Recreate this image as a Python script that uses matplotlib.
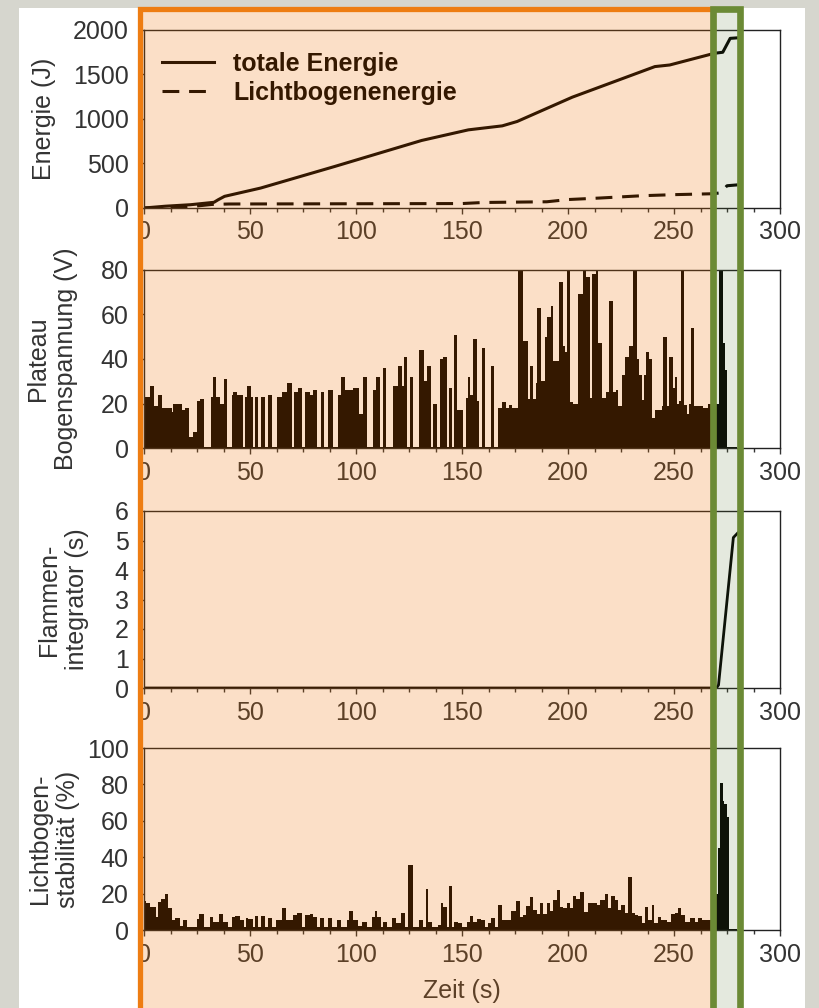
import matplotlib
matplotlib.use("Agg")
import matplotlib.pyplot as plt
from matplotlib.patches import Rectangle
from matplotlib.ticker import MultipleLocator

plt.rcParams['font.family'] = ['Liberation Sans', 'DejaVu Sans']

# --- Energie (J) ---
tot_t = [0, 10, 22, 33, 35, 38, 55, 90, 131, 153, 169, 176, 202, 241, 248, 269, 273, 276.5, 280]
tot_e = [0, 20, 37, 64, 93, 131, 224, 467, 759, 878, 923, 972, 1245, 1589, 1607, 1738, 1750, 1906, 1912]
arc_t = [0, 20, 32, 40, 150, 160, 190, 200, 215, 235, 250, 268, 272, 275, 280]
arc_e = [0, 10, 40, 45, 50, 62, 70, 95, 112, 138, 150, 160, 170, 250, 260]

# --- Plateau Bogenspannung (V): step edges + values ---
p2_edges = [0, 0.5, 2.8, 4.7, 6.8, 8.3, 10.4, 13.0, 13.8, 17.8, 19.3, 21.4, 23.3, 25.1, 26.4, 28.3,
            31.4, 32.4, 34.0, 35.8, 37.7, 39.3, 41.3, 42.1, 44.0, 46.5, 47.6, 48.7, 50.3, 51.6, 52.3,
            53.9, 55.0, 57.1, 58.6, 60.2, 62.6, 64.9, 67.3, 69.6, 70.7, 72.8, 74.4, 75.9, 78.3, 79.9,
            81.4, 83.3, 84.9, 86.9, 89.0, 91.6, 92.7, 94.8, 98.7, 101.5, 103.4, 105.0, 108.1, 109.4,
            111.3, 112.5, 114.1, 117.3, 119.9, 121.5, 122.6, 124.2, 125.4, 127.0, 129.8, 132.0, 133.6,
            135.6, 136.4, 138.0, 139.6, 141.1, 142.7, 143.8, 145.1, 146.2, 147.7, 150.6, 151.8, 152.9,
            154.0, 155.3, 156.9, 158.0, 159.2, 160.8, 163.5, 165.0, 167.1, 169.1, 170.7, 172.3, 173.8,
            176.5, 179.0, 180.9, 182.1, 183.7, 185.0, 185.6, 187.1, 189.2, 190.3, 191.9, 193.1, 195.9,
            197.5, 198.6, 199.4, 201.0, 202.2, 204.9, 207.3, 208.5, 210.4, 211.2, 213.2, 214.3, 215.9,
            218.0, 219.5, 221.1, 222.7, 223.8, 225.3, 226.9, 229.0, 230.8, 232.4, 233.7, 234.8, 235.9,
            236.8, 238.4, 239.5, 241.1, 242.6, 244.2, 245.0, 246.6, 247.8, 249.4, 250.5, 251.6, 252.5,
            253.2, 254.7, 256.0, 257.3, 257.9, 259.5, 260.7, 263.5, 266.2, 269.8, 271.4, 273.0, 274.0,
            274.8, 279.6]
p2_vals = [17, 23, 28, 19, 24, 18, 18, 16, 20, 17, 18, 5, 7, 21, 22, 0.5,
           23, 32, 23, 20, 31, 0.5, 24, 25, 24, 0.5, 23, 28, 23, 0.5, 23,
           0.5, 23, 0.5, 24, 0.5, 23, 25, 29, 0.5, 25, 27, 0.5, 25, 24, 26,
           0.5, 25, 0.5, 26, 0.5, 24, 32, 26, 27, 15.5, 32, 0.5, 26, 32,
           0.5, 36, 0.5, 28, 37, 28, 41, 0.5, 32, 0.5, 44, 30, 37,
           0.5, 20, 0.5, 40, 41, 0.5, 27, 0.5, 51, 17, 0.5, 22.5, 32,
           24, 49, 21, 0.5, 45, 0.5, 37, 0.5, 18, 20.6, 18, 19.5, 18,
           80, 48, 22, 37, 22, 29, 63, 30, 50, 59, 64, 39, 74.5,
           46, 43, 80, 20.6, 20, 69, 80, 77, 22.5, 78, 80, 47, 22.5,
           25, 66, 25, 26, 19, 33, 41, 46, 80, 40, 33, 21.5, 33,
           43, 40, 13.5, 17, 17, 19, 50, 19, 41, 27, 32, 20, 21,
           80, 19.5, 15.5, 20, 54, 19, 19, 18, 20, 20, 80, 47, 35,
           0.5]

# --- Flammenintegrator (s) ---
p3_t = [0, 270, 271, 278, 280]
p3_v = [0, 0, 0.1, 5.1, 5.25]

# --- Lichtbogenstabilitaet (%): step edges + values ---
p4_edges = [0, 0.9, 2.8, 5.7, 6.8, 7.9, 9.9, 11.5, 13.0, 14.6, 17.0, 18.5, 20.1, 24.8, 26.1, 28.3,
            31.1, 32.4, 35.5, 37.4, 39.8, 41.3, 42.9, 45.3, 47.2, 48.1, 49.2, 51.2, 52.3, 53.9, 55.0,
            57.1, 58.6, 60.2, 62.2, 64.9, 67.0, 70.4, 72.0, 74.4, 75.9, 78.3, 79.9, 81.4, 83.0, 84.9,
            86.9, 88.5, 91.2, 92.7, 95.6, 96.8, 98.7, 101.1, 102.6, 105.0, 107.4, 108.9, 110.0, 111.6,
            112.9, 114.4, 116.8, 118.8, 121.0, 123.1, 124.7, 127.0, 129.8, 131.7, 133.0, 134.1, 136.0,
            138.8, 140.0, 141.1, 142.7, 143.8, 145.4, 146.3, 148.2, 149.8, 152.2, 153.7, 155.3, 157.3,
            158.9, 160.8, 162.4, 163.9, 165.5, 167.1, 169.0, 171.0, 173.1, 175.7, 177.3, 178.9, 180.4,
            182.0, 183.6, 185.2, 186.7, 188.3, 189.9, 191.5, 193.0, 194.6, 196.2, 197.7, 199.3, 200.9,
            202.5, 204.0, 205.6, 207.6, 209.5, 211.1, 213.5, 215.0, 217.4, 219.0, 220.5, 222.1, 223.7,
            225.2, 226.8, 228.4, 230.0, 231.5, 233.1, 234.7, 236.3, 237.8, 239.4, 240.7, 242.5, 244.1,
            246.5, 248.8, 250.4, 252.0, 253.2, 255.1, 257.5, 259.8, 261.4, 263.0, 269.6, 270.9, 271.7,
            272.9, 273.7, 274.8, 275.9, 279.5]
p4_vals = [16, 15, 12.8, 7, 15.6, 17, 20, 12, 5.5, 6.4, 2.2, 5.5, 1.5, 5.9, 8.8,
           1.5, 7.3, 4.6, 8.8, 4.6, 1.5, 7, 7.7, 5.5, 1.5, 6.4, 5.9, 1.5, 7.7, 1.5,
           7.7, 1.5, 6.4, 1.5, 5.5, 12, 5.5, 8.2, 9.5, 1.5, 8.2, 8.8, 7, 1.5, 6.4,
           1.5, 6.4, 1.5, 5.5, 1.5, 5.5, 10.6, 5.5, 2.2, 4.6, 1.5, 7, 10.6, 7,
           1.5, 4.6, 1.5, 6.4, 4, 9.2, 1.5, 35.7, 1.5, 5.5, 1.5, 22.4, 4.6,
           1.5, 2.7, 14.7, 12.8, 1.5, 24.2, 1.5, 4.6, 3.7, 1.5, 4.6, 7.7, 4.6,
           5.9, 5.5, 1.5, 4, 6.4, 1.5, 13.7, 5.5, 5.5, 10.5, 16, 7, 8.2,
           13.4, 18, 11, 8.8, 15, 8.8, 14.7, 10.6, 16.5, 22, 12.8, 12, 15,
           12, 18.7, 16.9, 21, 10, 14.7, 14.7, 13.7, 16.5, 19.8, 12, 18.7, 16.5,
           11, 13.7, 9.5, 29.3, 9.5, 8.2, 7.7, 4, 12.8, 5.5, 13.7, 4, 7.3,
           5.5, 4.6, 8.8, 9.5, 12, 8.2, 4.6, 6.4, 4.6, 6.4, 5.5, 20, 45,
           81, 71, 69, 62, 0.5]

ylabels = ['Energie (J)', 'Plateau\nBogenspannung (V)', 'Flammen-\nintegrator (s)',
           'Lichtbogen-\nstabilität (%)']
ylims = [(0, 2000), (0, 80), (0, 6), (0, 100)]
ysteps = [500, 20, 1, 20]

W, H = 819, 1008
fig = plt.figure(figsize=(W / 100, H / 100), dpi=100)
fig.patch.set_facecolor('#d6d6ce')
fig.add_artist(Rectangle((19 / W, 0), (805 - 19) / W, 1 - 8 / H, transform=fig.transFigure,
                         facecolor='white', edgecolor='none', zorder=-5))

# panel boxes in pixels: (top, bottom), and y-label block centre x
boxes = [(30, 208), (270, 448), (511, 688), (748, 930)]
label_x = [44, 52, 63, 54]
txt = '#333333'
fs = 18
axes = []
for i, (top, bot) in enumerate(boxes):
    ax = fig.add_axes([144 / W, 1 - bot / H, 636 / W, (bot - top) / H])
    ax.set_facecolor('white')
    ax.set_xlim(0, 300)
    ax.set_ylim(*ylims[i])
    ax.xaxis.set_major_locator(MultipleLocator(50))
    ax.xaxis.set_minor_locator(MultipleLocator(12.5))
    ax.yaxis.set_major_locator(MultipleLocator(ysteps[i]))
    ax.tick_params(axis='both', which='major', direction='out', length=4, width=1,
                   labelsize=fs, colors=txt)
    ax.tick_params(axis='y', pad=7)
    ax.tick_params(axis='x', pad=5)
    ax.tick_params(axis='x', which='minor', direction='out', length=3, width=1, colors=txt)
    for s in ax.spines.values():
        s.set_color('#222222')
        s.set_linewidth(1)
    fig.text(label_x[i] / W, 1 - (top + bot) / 2 / H, ylabels[i], rotation=90, ha='center',
             va='center', fontsize=fs, color=txt, linespacing=1.25)
    axes.append(ax)

ax1, ax2, ax3, ax4 = axes
ax1.plot(tot_t, tot_e, color='black', lw=2.2, label='totale Energie')
ax1.plot(arc_t, arc_e, color='black', lw=2.2, dashes=(5.5, 3.2), label='Lichtbogenenergie')
ax1.legend(loc='upper left', bbox_to_anchor=(0.028, 0.875), frameon=False,
           prop={'size': fs, 'weight': 'bold'}, handlelength=2.1, handletextpad=0.75,
           labelspacing=0.2, borderpad=0, borderaxespad=0)

ax2.stairs(p2_vals, p2_edges, fill=True, color='black', lw=0)
ax3.plot(p3_t, p3_v, color='black', lw=2)
ax4.stairs(p4_vals, p4_edges, fill=True, color='black', lw=0)
ax4.set_xlabel('Zeit (s)', fontsize=fs, color=txt, labelpad=9)

# shaded overlays (orange: cutting phase, green: end phase)
ax_top = 1 - 8.5 / H
fig.add_artist(Rectangle((139.5 / W, 0), (712.5 - 139.5) / W, ax_top, transform=fig.transFigure,
                         facecolor='#f07000', alpha=0.22, edgecolor='none', zorder=10))
fig.add_artist(Rectangle((712.5 / W, 0), (740 - 712.5) / W, ax_top, transform=fig.transFigure,
                         facecolor='#5a7832', alpha=0.16, edgecolor='none', zorder=10))
fig.add_artist(Rectangle((139.5 / W, -0.01), (712.5 - 139.5) / W, ax_top + 0.01,
                         transform=fig.transFigure, facecolor='none', edgecolor='#ee7d12',
                         lw=3.8, zorder=11))
fig.add_artist(Rectangle((712.5 / W, -0.01), (740 - 712.5) / W, ax_top + 0.01,
                         transform=fig.transFigure, facecolor='none', edgecolor='#6b8a35',
                         lw=4.8, zorder=12))

fig.savefig('out.png', dpi=100, facecolor=fig.get_facecolor())
